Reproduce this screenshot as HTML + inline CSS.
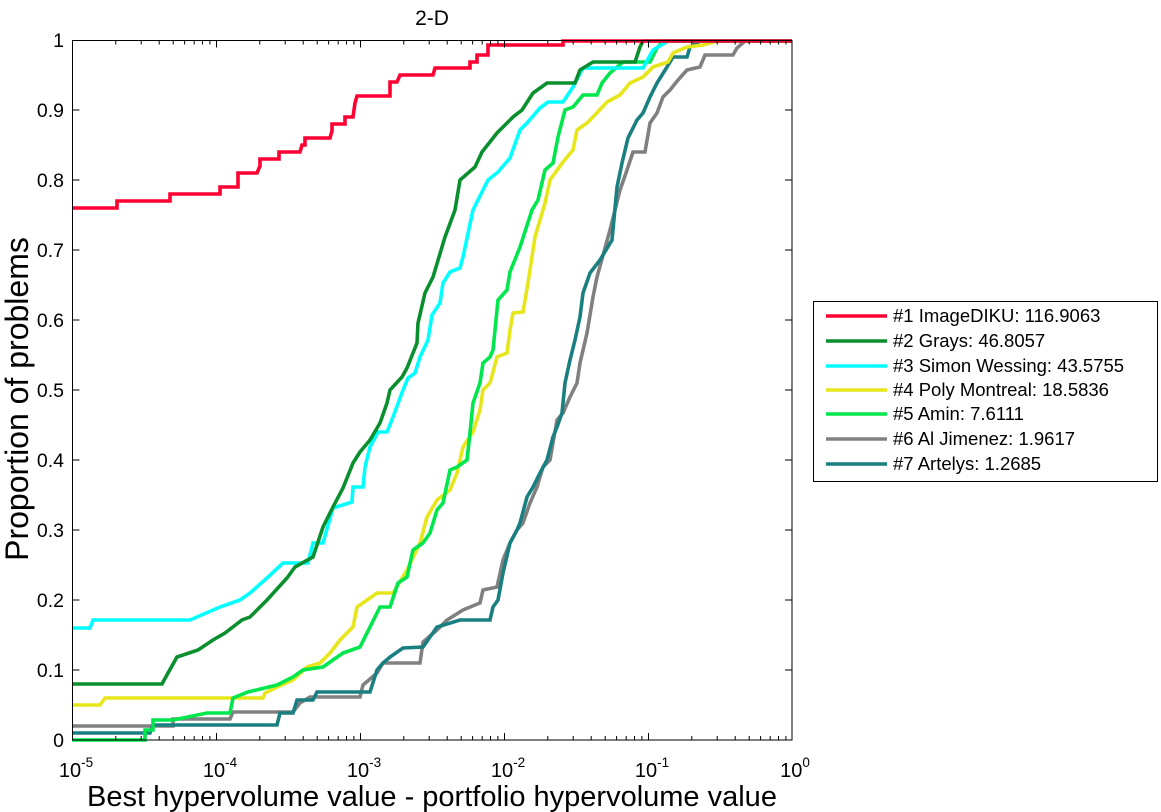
<!DOCTYPE html>
<html><head><meta charset="utf-8"><style>
html,body{margin:0;padding:0;background:#fff;}
svg{display:block;font-family:"Liberation Sans",Arial,sans-serif;}
</style></head><body>
<svg width="1161" height="812" viewBox="0 0 1161 812" xmlns="http://www.w3.org/2000/svg">
<defs>
<path id="dec" d="M43.3,0v-4M68.7,0v-4M86.7,0v-4M100.7,0v-4M112.1,0v-4M121.7,0v-4M130,0v-4M137.4,0v-4M43.3,-699.5v4M68.7,-699.5v4M86.7,-699.5v4M100.7,-699.5v4M112.1,-699.5v4M121.7,-699.5v4M130,-699.5v4M137.4,-699.5v4M0,0v-7M0,-699.5v7" stroke="#000" stroke-width="1" fill="none"/>
</defs>
<rect width="1161" height="812" fill="#fff"/>
<text x="432" y="25" font-size="21" text-anchor="middle">2-D</text>
<g fill="none" stroke-width="3.6" stroke-linejoin="miter">
<polyline stroke="#808080" points="72,726 173,726 173,719 230,719 233,712 293,712 300,703 310,697 360,697 363,685 377,673 383,663 420,663 423,642 437,630 447,620 463,610 480,603 483,590 497,587 503,560 510,543 517,530 523,523 530,503 537,487 543,467 550,460 557,420 563,413 570,397 577,383 580,363 587,333 593,297 597,277 610,230 620,190 627,170 633,152 645,152 650,123 657,113 663,97 670,90 678,80 687,70 700,67 705,55 733,55 737,48 745,41 792,41"/>
<polyline stroke="#1a7f80" points="72,733 150,733 153,725 277,725 280,713 293,713 297,700 313,700 317,692 370,692 377,670 383,663 390,657 403,648 423,647 430,637 437,627 460,620 490,620 493,607 498,600 503,573 510,543 517,530 520,523 527,497 533,487 540,473 547,460 553,437 557,427 562,413 565,383 570,360 575,340 580,317 583,293 590,273 600,260 612,240 617,187 622,163 628,138 637,120 643,113 650,97 657,83 667,67 673,57 687,57 690,47 700,41 792,41"/>
<polyline stroke="#e6e61a" points="72,705 100,705 105,698 263,698 265,693 277,687 293,680 307,667 320,663 330,653 340,640 353,627 357,607 367,600 377,593 393,593 407,570 420,543 427,517 437,500 450,490 457,473 463,447 473,432 480,410 483,390 490,383 497,357 507,353 510,330 513,313 523,312 528,283 535,237 545,203 550,180 563,162 573,150 577,130 587,123 593,117 607,102 620,95 630,83 643,77 653,67 668,62 673,53 687,47 703,45 717,41 792,41"/>
<polyline stroke="#00e64d" points="72,740 145,740 145,730 153,730 153,720 173,720 207,713 230,713 233,698 248,692 277,685 293,677 303,670 323,667 333,660 343,653 360,647 367,633 377,613 380,607 390,607 398,583 407,577 413,550 423,543 430,533 437,510 443,503 450,470 457,467 467,460 470,433 473,403 480,383 483,363 490,357 493,350 498,300 507,290 510,272 520,247 532,210 538,200 545,170 553,163 558,137 565,110 573,107 583,95 597,95 602,83 610,73 623,62 650,62 657,48 663,41 792,41"/>
<polyline stroke="#00ffff" points="72,628 90,628 93,620 190,620 220,607 240,600 250,593 267,578 283,563 308,563 313,543 323,543 333,508 352,502 353,487 363,487 365,467 370,447 378,432 387,432 393,417 403,390 408,378 415,373 420,357 428,340 432,315 440,303 443,283 450,272 460,268 463,257 473,210 488,180 498,172 510,158 520,130 527,123 540,108 548,102 563,102 573,87 583,68 643,68 653,50 668,41 792,41"/>
<polyline stroke="#0a8f2e" points="72,684 162,684 168,673 177,657 198,650 213,640 225,633 242,620 250,617 267,600 287,578 295,567 313,557 323,527 333,507 343,488 353,463 360,452 370,440 380,423 387,403 390,390 402,377 407,368 417,343 418,323 425,293 433,277 445,237 455,210 460,180 475,167 482,152 497,133 513,117 522,110 533,93 547,83 575,83 580,70 593,62 635,62 640,47 643,41 792,41"/>
<polyline stroke="#ff0033" points="72,208 117,208 117,201 170,201 170,194 220,194 220,187 238,187 238,173 257,173 260,166 260,159 279,159 279,152 300,152 302,145 305,145 305,138 330,138 332,131 332,124 345,124 345,117 353,117 355,103 357,96 390,96 390,82 397,82 400,75 433,75 435,68 470,68 470,62 477,62 477,55 488,55 488,45 563,45 563,41 792,41"/>
</g>
<use href="#dec" x="72.5" y="740"/>
<use href="#dec" x="216.5" y="740"/>
<use href="#dec" x="360.5" y="740"/>
<use href="#dec" x="504.5" y="740"/>
<use href="#dec" x="648.5" y="740"/>
<path d="M792,740v-7M792,40.5v7" stroke="#000" stroke-width="1" fill="none"/>
<path d="M72.5,670h7M72.5,600h7M72.5,530h7M72.5,460h7M72.5,390h7M72.5,320h7M72.5,250h7M72.5,180h7M72.5,110h7M792,670h-7M792,600h-7M792,530h-7M792,460h-7M792,390h-7M792,320h-7M792,250h-7M792,180h-7M792,110h-7" stroke="#000" stroke-width="1" fill="none"/>
<rect x="72.5" y="40.5" width="719.5" height="699.5" fill="none" stroke="#000" stroke-width="1"/>
<g font-size="19.5" fill="#000" text-anchor="end">
<text x="64" y="747">0</text>
<text x="64" y="677">0.1</text>
<text x="64" y="607">0.2</text>
<text x="64" y="537">0.3</text>
<text x="64" y="467">0.4</text>
<text x="64" y="397">0.5</text>
<text x="64" y="327">0.6</text>
<text x="64" y="257">0.7</text>
<text x="64" y="187">0.8</text>
<text x="64" y="117">0.9</text>
<text x="64" y="47">1</text>
</g>
<g font-size="20" fill="#000" text-anchor="middle">
<text x="76" y="777">10<tspan dy="-10" font-size="13.5">-5</tspan></text>
<text x="220" y="777">10<tspan dy="-10" font-size="13.5">-4</tspan></text>
<text x="364" y="777">10<tspan dy="-10" font-size="13.5">-3</tspan></text>
<text x="508" y="777">10<tspan dy="-10" font-size="13.5">-2</tspan></text>
<text x="652" y="777">10<tspan dy="-10" font-size="13.5">-1</tspan></text>
<text x="795" y="777">10<tspan dy="-10" font-size="13.5">0</tspan></text>
</g>
<text transform="translate(28,399) rotate(-90)" font-size="32" text-anchor="middle">Proportion of problems</text>
<text x="432" y="806" font-size="29" text-anchor="middle">Best hypervolume value - portfolio hypervolume value</text>
<rect x="813.5" y="301.5" width="344" height="180" fill="#fff" stroke="#000" stroke-width="1"/>
<g stroke-width="3.6">
<line x1="826" y1="316" x2="887" y2="316" stroke="#ff0033"/>
<line x1="826" y1="341" x2="887" y2="341" stroke="#0a8f2e"/>
<line x1="826" y1="366" x2="887" y2="366" stroke="#00ffff"/>
<line x1="826" y1="390" x2="887" y2="390" stroke="#e6e61a"/>
<line x1="826" y1="414" x2="887" y2="414" stroke="#00e64d"/>
<line x1="826" y1="439" x2="887" y2="439" stroke="#808080"/>
<line x1="826" y1="464" x2="887" y2="464" stroke="#1a7f80"/>
</g>
<g font-size="18.5" fill="#000">
<text x="893" y="322">#1 ImageDIKU: 116.9063</text>
<text x="893" y="347">#2 Grays: 46.8057</text>
<text x="893" y="372">#3 Simon Wessing: 43.5755</text>
<text x="893" y="396">#4 Poly Montreal: 18.5836</text>
<text x="893" y="420">#5 Amin: 7.6111</text>
<text x="893" y="445">#6 Al Jimenez: 1.9617</text>
<text x="893" y="470">#7 Artelys: 1.2685</text>
</g>
</svg>
</body></html>
